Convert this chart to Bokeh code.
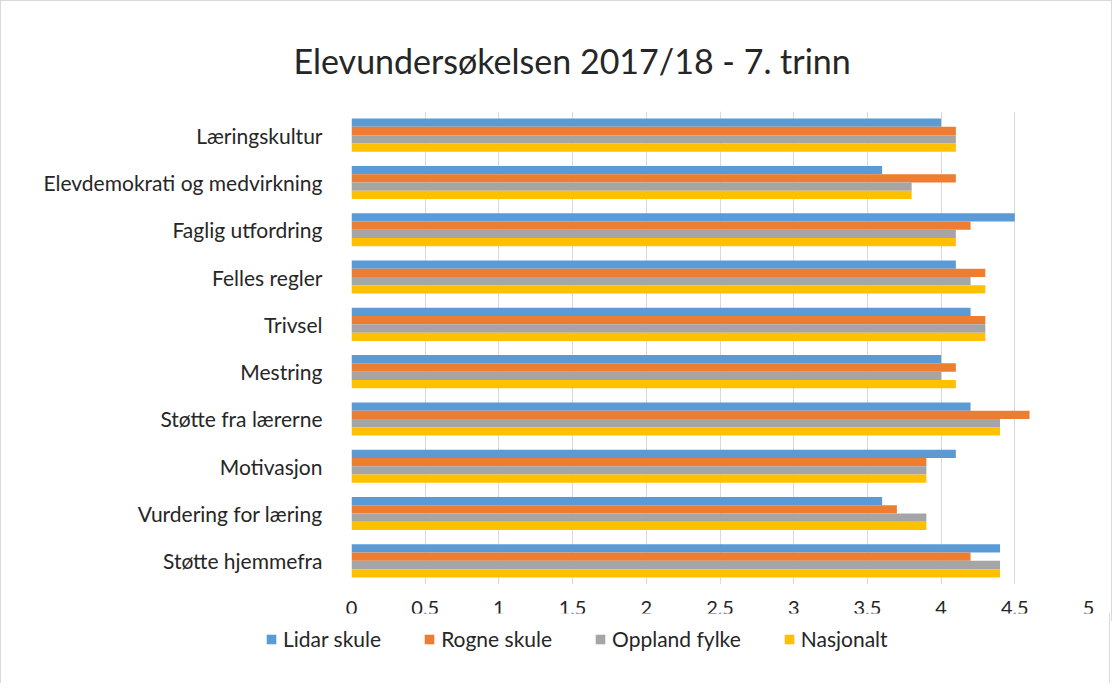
from bokeh.plotting import figure
from bokeh.models import FactorRange, Range1d, FixedTicker, Legend, LegendItem, ColumnDataSource
from bokeh.transform import dodge
from bokeh.embed import file_html
from bokeh.resources import INLINE

categories = ["Læringskultur", "Elevdemokrati og medvirkning", "Faglig utfordring",
              "Felles regler", "Trivsel", "Mestring", "Støtte fra lærerne",
              "Motivasjon", "Vurdering for læring", "Støtte hjemmefra"]
series = ["Lidar skule", "Rogne skule", "Oppland fylke", "Nasjonalt"]
lidar = [4.0, 3.6, 4.5, 4.1, 4.2, 4.0, 4.2, 4.1, 3.6, 4.4]
rogne = [4.1, 4.1, 4.2, 4.3, 4.3, 4.1, 4.6, 3.9, 3.7, 4.2]
oppland = [4.1, 3.8, 4.1, 4.2, 4.3, 4.0, 4.4, 3.9, 3.9, 4.4]
nasjonalt = [4.1, 3.8, 4.1, 4.3, 4.3, 4.1, 4.4, 3.9, 3.9, 4.4]
colors = ["#5b9bd5", "#ed7d31", "#a5a5a5", "#ffc000"]
ticks = [0, 0.5, 1, 1.5, 2, 2.5, 3, 3.5, 4, 4.5, 5]
tick_labels = ["0", "0,5", "1", "1,5", "2", "2,5", "3", "3,5", "4", "4,5", "5"]

src = ColumnDataSource(dict(cat=categories, s0=lidar, s1=rogne, s2=oppland, s3=nasjonalt))

p = figure(frame_width=737, frame_height=473, output_backend="svg", toolbar_location=None,
           y_range=FactorRange(factors=list(reversed(categories)), range_padding=0),
           x_range=Range1d(0, 5),
           min_border_left=350, min_border_right=23, min_border_bottom=37, min_border_top=110)

p.title.text = "Elevundersøkelsen  2017/18 - 7. trinn"
p.title.align = "left"
p.title.offset = -58
p.title.text_font = "Lato"
p.title.text_font_size = "34px"
p.title.text_font_style = "normal"
p.title.text_color = "#262626"
p.title.standoff = 61

bw = 0.175
offsets = [1.5 * bw, 0.5 * bw, -0.5 * bw, -1.5 * bw]
for i, (name, c) in enumerate(zip(series, colors)):
    p.hbar(y=dodge("cat", offsets[i], range=p.y_range), right="s%d" % i, left=0,
           height=bw, source=src, color=c, line_color=None)

p.xaxis.ticker = FixedTicker(ticks=ticks)
p.xaxis.major_label_overrides = {t: l for t, l in zip(ticks, tick_labels)}
p.xaxis.axis_line_color = None
p.xaxis.major_tick_line_color = None
p.xaxis.minor_tick_line_color = None
p.xaxis.major_label_text_font = "Lato"
p.xaxis.major_label_text_font_size = "20px"
p.xaxis.major_label_text_color = "#262626"
p.xaxis.major_label_standoff = 10

p.yaxis.axis_line_color = None
p.yaxis.major_tick_line_color = None
p.yaxis.minor_tick_line_color = None
p.yaxis.major_label_text_font = "Lato"
p.yaxis.major_label_text_font_size = "21px"
p.yaxis.major_label_text_color = "#262626"
p.yaxis.major_label_standoff = 23

p.xgrid.grid_line_color = "#d9d9d9"
p.ygrid.grid_line_color = None
p.outline_line_color = None
p.styles = {"border-left": "1px solid #d9d9d9", "border-top": "1px solid #d9d9d9",
            "border-right": "1px solid #d9d9d9"}

# legend strip (separate root so its frame is not aligned with the chart's)
lf = figure(width=1110, height=70, output_backend="svg", toolbar_location=None,
            x_axis_type=None, y_axis_type=None, x_range=Range1d(0, 5),
            y_range=FactorRange(factors=list(reversed(categories))), min_border=0)
lf.outline_line_color = None
lf.xgrid.grid_line_color = None
lf.ygrid.grid_line_color = None
leg_renderers = []
for i, c in enumerate(colors):
    r = lf.hbar(y="cat", right="s%d" % i, left=0, height=bw, source=src,
                color=c, line_color=None)
    r.visible = False
    leg_renderers.append(r)
legend = Legend(items=[LegendItem(label=n, renderers=[r]) for n, r in zip(series, leg_renderers)],
                orientation="horizontal", location=(264, 32),
                label_text_font="Lato", label_text_font_size="21px", label_text_color="#262626",
                glyph_width=12, glyph_height=12, spacing=42, border_line_color=None,
                background_fill_alpha=0, padding=4, margin=0, label_standoff=6,
                inactive_fill_alpha=0)
lf.add_layout(legend, "center")
lf.styles = {"border-left": "1px solid #d9d9d9", "border-right": "1px solid #d9d9d9",
             "margin-top": "-8px"}

open("out.html", "w").write(file_html([p, lf], INLINE))
